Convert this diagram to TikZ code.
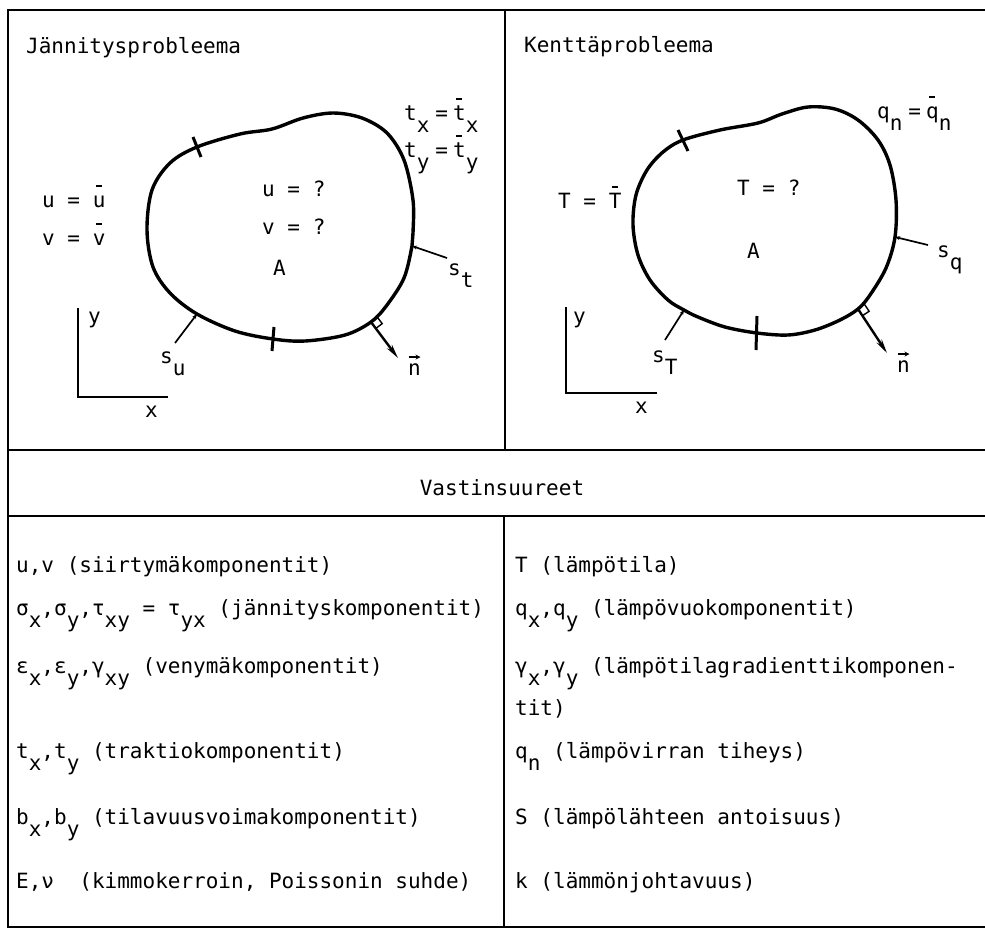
\documentclass[tikz,border=0pt]{standalone}
\usepackage{fontspec}
\usetikzlibrary{arrows.meta}
\newfontfamily\typew{DejaVu Sans Mono}
\newcommand\tfont{\typew\fontsize{21}{25}\selectfont}
% typewriter-style subscript: a full-size letter set half a line lower
\newcommand\lo[1]{\raisebox{-12pt}{#1}}
% short bar set over a letter
\newcommand\barred[1]{\ooalign{#1\cr\hidewidth\rule[20pt]{6pt}{1.8pt}\hidewidth\cr}}

\begin{document}
\begin{tikzpicture}[x=1pt,y=-1pt,
  frame/.style={line width=1.9pt},
  blob/.style={line width=3.4pt},
  tickmark/.style={line width=3pt},
  axis/.style={line width=2pt},
  lbl/.style={anchor=base west, inner sep=0pt, font=\tfont},
  lead/.style={line width=1.7pt, {Stealth[length=5pt,width=4pt]}-},
  normalvec/.style={line width=2.4pt, -{Stealth[length=14pt,width=6pt]}},
  rightangle/.style={line width=1.4pt},
  vecarrow/.style={line width=1.2pt, -{Stealth[length=5pt,width=5pt]}}]
\useasboundingbox (0,0) rectangle (985,930);

% ---------- table frame ----------
\coordinate (tl) at (8,10);
\coordinate (tr) at (985,10);
\coordinate (bl) at (8,927);
\coordinate (br) at (985,927);
\draw[frame] (tr) -- (tl) -- (bl) -- (br);
\draw[frame] (8,450) -- (985,450);
\draw[frame] (8,516) -- (985,516);
\draw[frame] (505,10) -- (505,450);
\draw[frame] (504,516) -- (504,927);

% ---------- stress problem ----------
\node[lbl] (h1) at (26,53) {Jännitysprobleema};

\draw[blob] plot[smooth cycle, tension=0.55] coordinates {
  (197,147) (240,134) (272,129) (303,118) (333,113) (362,118) (387,133)
  (404,160) (413,200) (413,233) (412,246) (404,278) (387,305) (371,322)
  (345,335) (305,341) (273,339) (235,331) (197,314) (170,293) (153,267)
  (147,230) (152,190) (170,163)};

\draw[tickmark] (193,137) -- (201,157);
\draw[tickmark] (274,327) -- (272,351);

\coordinate (Lst) at (412,246);
\coordinate (Lste) at (447,258);
\draw[lead] (Lst) -- (Lste);
\node[lbl] (Lstl) at (448,275) {s\lo{t}};

\coordinate (Lsu) at (197,314);
\coordinate (Lsue) at (175,343);
\draw[lead] (Lsu) -- (Lsue);
\node[lbl] (Lsul) at (160,363) {s\lo{u}};

\coordinate (Lnb) at (371,322);
\coordinate (Lne) at (398,358);
\draw[normalvec] (Lnb) -- (Lne);
\draw[rightangle] (377.4,317.2) -- (382.2,323.6) -- (375.8,328.4);
\node[lbl] (Lnl) at (408,375) {n};
\draw[vecarrow] ([xshift=-6pt,yshift=6pt]Lnl.north) -- ([xshift=6pt,yshift=6pt]Lnl.north);

\node[lbl] (Lu) at (42,207) {u = \barred{u}};
\node[lbl] (Lv) at (42,245) {v = \barred{v}};
\node[lbl] (Luq) at (262,196) {u = ?};
\node[lbl] (Lvq) at (262,234) {v = ?};
\node[lbl] (LA) at (273,275) {A};
\node[lbl] (Ltx) at (404,120) {t\lo{x}\hspace{6pt}=\hspace{5pt}\barred{t}\lo{x}};
\node[lbl] (Lty) at (404,157) {t\lo{y}\hspace{6pt}=\hspace{5pt}\barred{t}\lo{y}};

\coordinate (Lay) at (78,308);
\coordinate (Lo) at (78,397);
\coordinate (Lax) at (168,397);
\draw[axis] (Lay) -- (Lo) -- (Lax);
\node[lbl] (Lyl) at (88,323) {y};
\node[lbl] (Lxl) at (145,417) {x};

% ---------- field problem ----------
\node[lbl] (h2) at (524,52) {Kenttäprobleema};

\draw[blob] plot[smooth cycle, tension=0.55] coordinates {
  (683,140) (720,130) (758,123) (782,114) (808,107) (835,109) (858,120)
  (878,140) (890,165) (896,200) (895,237) (886,268) (870,295) (858,309)
  (840,320) (815,330) (788,335) (757,333) (725,327) (698,317) (684,310)
  (668,300) (650,280) (638,255) (633,225) (636,195) (647,170) (663,152)};

\draw[tickmark] (678,130) -- (688,151);
\draw[tickmark] (757,316) -- (756,350);

\coordinate (Rsq) at (895,237);
\coordinate (Rsqe) at (928,245);
\draw[lead] (Rsq) -- (Rsqe);
\node[lbl] (Rsql) at (937,257) {s\lo{q}};

\coordinate (RsT) at (684,310);
\coordinate (RsTe) at (665,340);
\draw[lead] (RsT) -- (RsTe);
\node[lbl] (RsTl) at (652,362) {s\lo{T}};

\coordinate (Rnb) at (858,309);
\coordinate (Rne) at (887,353);
\draw[normalvec] (Rnb) -- (Rne);
\draw[rightangle] (864.7,304.6) -- (869.1,311.3) -- (862.4,315.7);
\node[lbl] (Rnl) at (897,372) {n};
\draw[vecarrow] ([xshift=-6pt,yshift=6pt]Rnl.north) -- ([xshift=6pt,yshift=6pt]Rnl.north);

\node[lbl] (RT) at (558,208) {T = \barred{T}};
\node[lbl] (RTq) at (737,195) {T = ?};
\node[lbl] (RA) at (747,258) {A};
\node[lbl] (Rqn) at (877,118) {q\lo{n}\hspace{6pt}=\hspace{5pt}\barred{q}\lo{n}};

\coordinate (Ray) at (566,307);
\coordinate (Ro) at (566,393);
\coordinate (Rax) at (657,393);
\draw[axis] (Ray) -- (Ro) -- (Rax);
\node[lbl] (Ryl) at (573,323) {y};
\node[lbl] (Rxl) at (635,413) {x};

% ---------- corresponding quantities ----------
\node[anchor=base, inner sep=0pt, font=\tfont] (vast) at (502,495) {Vastinsuureet};

\node[lbl] (a1) at (16,572) {u,v (siirtymäkomponentit)};
\node[lbl] (a2) at (16,615) {σ\lo{x},σ\lo{y},τ\lo{xy} = τ\lo{yx} (jännityskomponentit)};
\node[lbl] (a3) at (16,673) {ε\lo{x},ε\lo{y},γ\lo{xy} (venymäkomponentit)};
\node[lbl] (a4) at (16,758) {t\lo{x},t\lo{y} (traktiokomponentit)};
\node[lbl] (a5) at (16,824) {b\lo{x},b\lo{y} (tilavuusvoimakomponentit)};
\node[lbl] (a6) at (16,888) {E,ν\ \ (kimmokerroin, Poissonin suhde)};

\node[lbl] (b1) at (515,572) {T (lämpötila)};
\node[lbl] (b2) at (515,615) {q\lo{x},q\lo{y} (lämpövuokomponentit)};
\node[lbl] (b3) at (515,673) {γ\lo{x},γ\lo{y} (lämpötilagradienttikomponen-};
\node[lbl] (b3b) at (515,715) {tit)};
\node[lbl] (b4) at (515,758) {q\lo{n} (lämpövirran tiheys)};
\node[lbl] (b5) at (515,824) {S (lämpölähteen antoisuus)};
\node[lbl] (b6) at (515,888) {k (lämmönjohtavuus)};
\end{tikzpicture}
\end{document}
